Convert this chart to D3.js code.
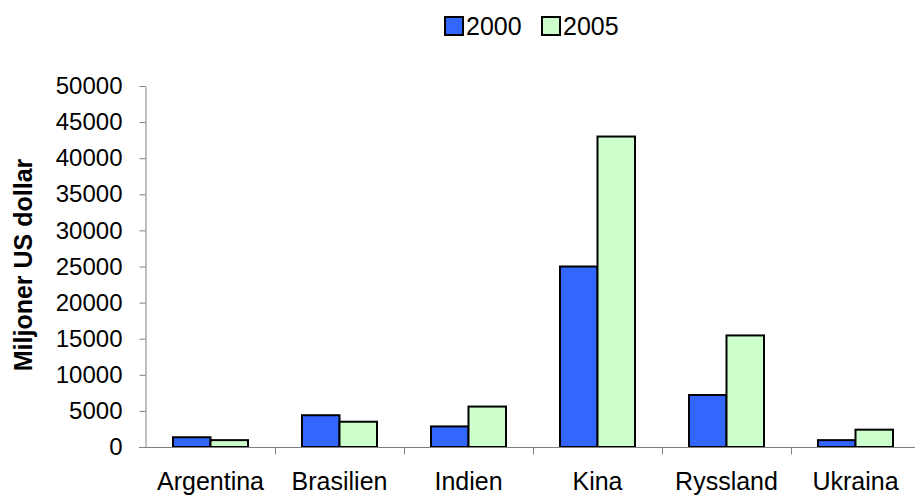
<!DOCTYPE html>
<html>
  <head>
    <meta charset="utf-8">
    <title>Miljoner US dollar</title>
    <script src="https://d3js.org/d3.v7.min.js"></script>
    <style>
      body { margin: 0; background: #fff; font-family: "Liberation Sans", Arial, sans-serif; }
    </style>
  </head>
  <body>
    <svg></svg>
    <script>
      // Data
      var countries = ["Argentina", "Brasilien", "Indien", "Kina", "Ryssland", "Ukraina"];
      var years = ["2000", "2005"];
      var values2000 = [1350, 4400, 2850, 25000, 7200, 950];
      var values2005 = [950, 3500, 5600, 43000, 15450, 2400];
      var yTicks = [0, 5000, 10000, 15000, 20000, 25000, 30000, 35000, 40000, 45000, 50000];
      var colors = ["#3366ff", "#ccffcc"];

      var width = 915, height = 495;
      var svg = d3.select("svg").attr("width", width).attr("height", height);

      var x = d3.scaleBand().domain(countries).range([146, 920]);
      var y = d3.scaleLinear().domain([0, 50000]).range([447, 86]);
      var barW = 37.5, groupOff = 27;

      var rows = countries.map(function(c, i) { return [values2000[i], values2005[i]]; });

      // bars
      var groups = svg.selectAll("g.cat")
        .data(rows)
        .enter().append("g")
          .attr("class", "cat")
          .attr("transform", function(d, i) { return "translate(" + (x(countries[i]) + groupOff) + ",0)"; });

      groups.selectAll("rect")
        .data(function(d) { return d; })
        .enter().append("rect")
          .attr("x", function(d, j) { return j * barW; })
          .attr("y", function(d) { return y(d); })
          .attr("width", barW)
          .attr("height", function(d) { return y(0) - y(d); })
          .style("fill", function(d, j) { return colors[j]; })
          .style("stroke", "#000")
          .style("stroke-width", 2);

      // y axis
      var yAxis = svg.append("g")
        .attr("transform", "translate(145.5,0)")
        .call(d3.axisLeft(y).tickValues(yTicks).tickFormat(d3.format("d"))
          .tickSize(6).tickSizeOuter(0).tickPadding(17));
      yAxis.select(".domain").attr("stroke", "#808080");
      yAxis.selectAll(".tick line").attr("stroke", "#808080");
      yAxis.selectAll("text")
        .style("font-size", "24px")
        .style("font-family", "Liberation Sans, Arial, sans-serif")
        .attr("fill", "#000");

      // x axis
      var xAxis = svg.append("g")
        .attr("transform", "translate(0,447.5)");
      xAxis.append("line")
        .attr("x1", 139).attr("x2", 920)
        .attr("stroke", "#808080");
      xAxis.selectAll("line.tk")
        .data(countries.slice(1))
        .enter().append("line")
          .attr("class", "tk")
          .attr("x1", function(d) { return Math.round(x(d)) + 0.5; })
          .attr("x2", function(d) { return Math.round(x(d)) + 0.5; })
          .attr("y1", 0).attr("y2", 7)
          .attr("stroke", "#808080");
      xAxis.selectAll("text")
        .data(countries)
        .enter().append("text")
          .attr("x", function(d) { return x(d) + x.bandwidth() / 2; })
          .attr("y", 42)
          .attr("text-anchor", "middle")
          .style("font-size", "25px")
          .text(function(d) { return d; });

      // y label
      svg.append("text")
        .attr("transform", "translate(32,265) rotate(-90)")
        .attr("text-anchor", "middle")
        .style("font-size", "25px")
        .style("font-weight", "bold")
        .text("Miljoner US dollar");

      // legend
      var legend = svg.selectAll("g.leg")
        .data(years)
        .enter().append("g")
          .attr("class", "leg")
          .attr("transform", function(d, i) { return "translate(" + (445 + i * 97) + ",17)"; });
      legend.append("rect")
        .attr("width", 18).attr("height", 18)
        .style("fill", function(d, i) { return colors[i]; })
        .style("stroke", "#000")
        .style("stroke-width", 2);
      legend.append("text")
        .attr("x", 21).attr("y", 18)
        .style("font-size", "25px")
        .text(function(d) { return d; });
    </script>
  </body>
</html>
